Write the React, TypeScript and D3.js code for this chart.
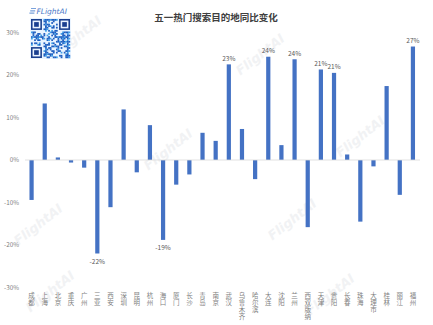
import React from "react";
import * as d3 from "d3";

const cities = ["成都","上海","北京","重庆","广州","三亚","西安","深圳","昆明","杭州","海口","厦门","长沙","青岛","南京","武汉","乌鲁木齐","哈尔滨","大连","沈阳","兰州","西双版纳","天津","贵阳","长春","珠海","大理市","桂林","丽江","福州"];
const changes = [-9.4,13.3,0.6,-0.6,-1.8,-22.0,-11.1,11.9,-2.9,8.2,-18.8,-5.8,-3.4,6.4,4.5,22.5,7.3,-4.5,24.3,3.5,23.7,-15.8,21.3,20.5,1.3,-14.5,-1.5,17.4,-8.2,26.7];
const labeled = ["三亚","海口","武汉","大连","兰州","天津","贵阳","福州"];
const yTicks = [-30,-20,-10,0,10,20,30];
const title = "五一热门搜索目的地同比变化";
const watermarks = [[41,228],[53,295],[171,153],[263,58],[363,140],[295,223],[333,298],[80,40]];

const W = 433, H = 325;
const FONT = "'Noto Sans CJK SC', 'Noto Sans', sans-serif";

function QR({ x, y, size }: { x: number; y: number; size: number }) {
  const n = 25;
  const c = size / n;
  const cells: JSX.Element[] = [];
  const inFinder = (i: number, j: number) =>
    (i < 8 && j < 8) || (i < 8 && j >= n - 8) || (i >= n - 8 && j < 8);
  for (let i = 0; i < n; i++) {
    for (let j = 0; j < n; j++) {
      if (inFinder(i, j)) continue;
      const h = (i * 31 + j * 17 + i * j * 7 + ((i ^ j) * 5)) % 11;
      if (h < 5) {
        cells.push(<rect key={i + "-" + j} x={x + j * c} y={y + i * c} width={c + 0.2} height={c + 0.2} fill={(i + j) % 4 === 0 ? "#3fa0e8" : "#1f5fc0"} />);
      }
    }
  }
  const finder = (fx: number, fy: number, k: string) => (
    <g key={k}>
      <rect x={fx + 0.5 * c} y={fy + 0.5 * c} width={6 * c} height={6 * c} fill="none" stroke="#1a3f8f" strokeWidth={c} />
      <rect x={fx + 2 * c} y={fy + 2 * c} width={3 * c} height={3 * c} fill="#1a3f8f" />
    </g>
  );
  return (
    <g>
      <rect x={x - 1} y={y - 1} width={size + 2} height={size + 2} fill="#eaf4ff" />
      {cells}
      {finder(x, y, "a")}
      {finder(x + (n - 7) * c, y, "b")}
      {finder(x, y + (n - 7) * c, "c")}
    </g>
  );
}

export default function App() {
  const x = d3.scaleBand<string>().domain(cities).range([25, 419.5]).paddingInner(0.68).paddingOuter(0.34);
  const y = d3.scaleLinear().domain([-30, 30]).range([287.5, 32.5]);
  const bw = x.bandwidth();
  const fmt = (v: number) => Math.round(v) + "%";

  return (
    <svg width={W} height={H} style={{ position: "absolute", left: 0, top: 0, background: "#fff" }} fontFamily={FONT}>
      <rect width={W} height={H} fill="#fff" />
      {watermarks.map(([wx, wy], i) => (
        <text key={"wm" + i} x={wx} y={wy} transform={`rotate(-38 ${wx} ${wy})`} textAnchor="middle" fontSize={13} fontWeight="bold" fontStyle="italic" fill="#d8dbe0" opacity={0.35} fontFamily="'DejaVu Sans', sans-serif">FlightAI</text>
      ))}
      <g>
        <path d="M31 8.5 L36 8.5 M30.2 10.8 L35.2 10.8 M29.4 13.1 L34.4 13.1" stroke="#7aa2dc" strokeWidth={1.2} />
        <text x={36.5} y={14} fontSize={7.5} fontStyle="italic" fill="#4a78c8" fontFamily="'DejaVu Sans', sans-serif">FLightAI</text>
      </g>
      <QR x={31} y={19} size={39} />
      <text x={216} y={21} textAnchor="middle" fontSize={9.5} fontWeight="bold" fill="#404040">{title}</text>
      {yTicks.map((t) => (
        <text key={"yt" + t} x={19} y={y(t) + 2.3} textAnchor="end" fontSize={6.3} fill="#808080">{t + "%"}</text>
      ))}
      {cities.map((c, i) => {
        const v = changes[i];
        const y0 = y(0), y1 = y(v);
        return <rect key={"b" + c} x={x(c)!} y={Math.min(y0, y1)} width={bw} height={Math.abs(y1 - y0)} fill="#4472C4" />;
      })}
      <line x1={25} x2={420} y1={y(0)} y2={y(0)} stroke="#d9d9d9" strokeWidth={0.8} />
      {cities.map((c, i) => {
        if (!labeled.includes(c)) return null;
        const v = changes[i];
        const cx = x(c)! + bw / 2;
        const ly = v >= 0 ? y(v) - 3.5 : y(v) + 10;
        return <text key={"l" + c} x={cx} y={ly} textAnchor="middle" fontSize={6.5} fill="#595959">{fmt(v)}</text>;
      })}
      {cities.map((c) => {
        const cx = x(c)! + bw / 2;
        return (
          <text key={"xl" + c} x={cx} y={292} fontSize={6.5} fill="#7f7f7f" letterSpacing={0.5}
            style={{ writingMode: "vertical-rl", textOrientation: "upright" } as React.CSSProperties}>{c}</text>
        );
      })}
    </svg>
  );
}
